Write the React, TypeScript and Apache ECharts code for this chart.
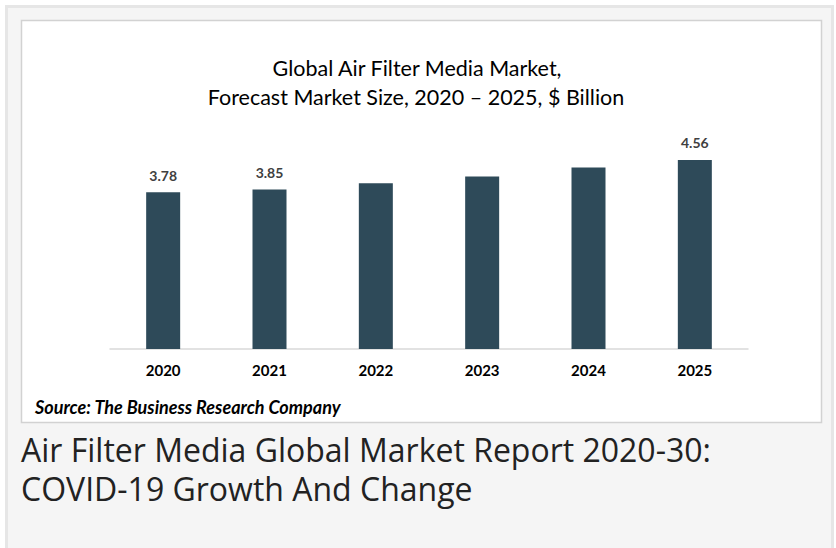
import React, { useEffect, useRef } from "react";
import * as echarts from "echarts";

const years = ["2020", "2021", "2022", "2023", "2024", "2025"];
const marketSize = [3.78, 3.85, 4.0, 4.16, 4.38, 4.56];
const labelledYears = ["2020", "2021", "2025"];
const titleLines = ["Global Air Filter Media Market,", "Forecast Market Size, 2020 \u2013 2025, $ Billion"];
const sourceText = "Source: The Business Research Company";
const captionLines = ["Air Filter Media Global Market Report 2020-30:", "COVID-19 Growth And Change"];

export default function App() {
  const ref = useRef<HTMLDivElement>(null);
  useEffect(() => {
    if (!ref.current) return;
    const chart = echarts.init(ref.current, undefined, { renderer: "svg" });
    const barData = marketSize.map((v, i) => ({
      value: v,
      label: { show: labelledYears.includes(years[i]) },
    }));
    chart.setOption({
      animation: false,
      backgroundColor: "#ffffff",
      graphic: [
        {
          type: "rect",
          z: -10,
          shape: { x: 6.5, y: 6.5, width: 826, height: 560 },
          style: { fill: "#f5f5f5", stroke: "#e6e6e6", lineWidth: 3 },
          silent: true,
        },
        {
          type: "rect",
          z: -9,
          shape: { x: 21.5, y: 20.5, width: 800, height: 402 },
          style: { fill: "#ffffff", stroke: "#d2d2d2", lineWidth: 1.5 },
          silent: true,
        },
        {
          type: "text",
          x: 417,
          y: 68,
          style: {
            text: titleLines[0],
            font: '21.5px Lato',
            fill: "#000000",
            align: "center",
            verticalAlign: "middle",
          },
        },
        {
          type: "text",
          x: 416,
          y: 97,
          style: {
            text: titleLines[1],
            font: '21.5px Lato',
            fill: "#000000",
            align: "center",
            verticalAlign: "middle",
          },
        },
        {
          type: "text",
          x: 35,
          y: 407,
          style: {
            text: sourceText,
            font: 'italic bold 18px Lato',
            fill: "#000000",
            align: "left",
            verticalAlign: "middle",
          },
        },
        {
          type: "text",
          x: 21,
          y: 449,
          style: {
            text: captionLines[0],
            font: '32px "Open Sans"',
            fill: "#222222",
            align: "left",
            verticalAlign: "middle",
          },
        },
        {
          type: "text",
          x: 21,
          y: 488,
          style: {
            text: captionLines[1],
            font: '32px "Open Sans"',
            fill: "#222222",
            align: "left",
            verticalAlign: "middle",
          },
        },
      ],
      grid: { left: 110, right: 88, top: 141.75, bottom: 199, containLabel: false },
      xAxis: {
        type: "category",
        data: years,
        axisLine: { show: true, lineStyle: { color: "#d9d9d9", width: 1.5 } },
        axisTick: { show: false },
        axisLabel: {
          color: "#000000",
          fontFamily: "Lato",
          fontWeight: "bold",
          fontSize: 15,
          margin: 13,
        },
      },
      yAxis: {
        type: "value",
        min: 0,
        max: 5,
        show: false,
        splitLine: { show: false },
      },
      series: [
        {
          type: "bar",
          data: barData,
          barWidth: 34,
          itemStyle: { color: "#2e4a59" },
          label: {
            position: "top",
            distance: 10,
            color: "#404040",
            fontFamily: "Lato",
            fontWeight: "bold",
            fontSize: 14,
            formatter: (p: any) => Number(p.value).toFixed(2),
          },
        },
      ],
    });
    return () => chart.dispose();
  }, []);
  return (
    <div
      ref={ref}
      style={{ position: "absolute", left: 0, top: 0, width: 836, height: 548 }}
    />
  );
}
